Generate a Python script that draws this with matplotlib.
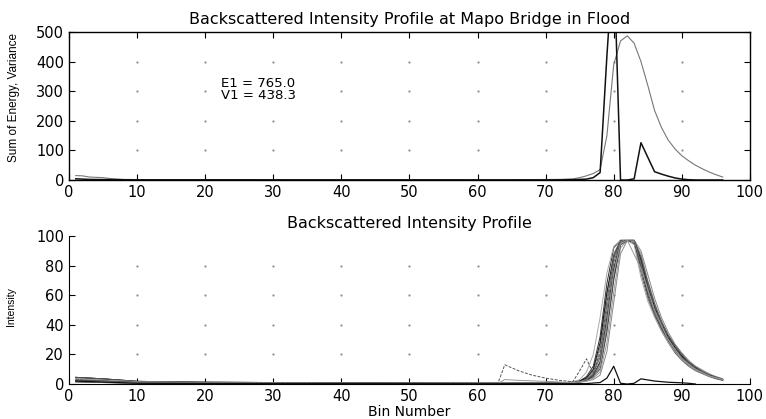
import numpy as np
import matplotlib
matplotlib.use("Agg")
from matplotlib import pyplot as plt

# top panel: sum of energy (black) and variance (gray), sparse breakpoints
energy_bins = [1, 2, 3, 5, 7, 10, 20, 40, 60, 70, 74, 76, 77, 78, 79, 80, 81, 82, 83, 84, 85, 86, 87, 88, 89, 90, 91, 92, 96]
energy = [4, 3, 2, 1.5, 1, 0.5, 0.5, 0.3, 0.2, 0.2, 1, 3, 8, 25, 420, 765, 0, 0, 4, 126, 77, 28, 20, 13, 7, 3, 1, 0, 0]

variance_bins = [1, 2, 3, 5, 6, 8, 10, 30, 50, 65, 72, 74, 75, 76, 77, 78, 79, 80, 81, 82, 83, 84, 85, 86, 87, 88, 89, 90, 91, 92, 93, 94, 95, 96]
variance = [15, 14, 10, 8, 5, 2, 1.5, 1, 1, 1, 2, 4, 8, 14, 22, 35, 150, 390, 470, 487, 462, 400, 320, 235, 178, 135, 105, 82, 65, 50, 38, 27, 18, 10]

E1 = 765.0
V1 = 438.3

# bottom panel: individual backscatter profiles
tail_bins = [1, 3, 5, 8, 10, 15, 20, 30, 40, 50, 60, 71]
tails = [
    [4.5, 4, 3.5, 2.5, 1.8, 1.5, 1.2, 1, 0.8, 0.6, 0.5, 0.5],
    [3.5, 3, 2.5, 2, 1.5, 1.2, 1, 0.8, 0.6, 0.5, 0.5, 0.5],
    [2.5, 2.2, 2, 1.5, 1.2, 1, 0.8, 0.6, 0.5, 0.4, 0.4, 0.5],
    [1.5, 1.2, 1, 0.8, 0.6, 0.5, 0.5, 0.4, 0.3, 0.3, 0.3, 0.5],
]

peak_bins = list(range(72, 97))
profiles = [
    [0.5, 0.5, 1, 1.5, 3, 6, 15, 45, 78, 97, 97, 97, 82, 65, 51, 40, 31, 24, 18, 14, 11, 8, 6, 4, 3],
    [0.5, 0.5, 1, 2, 4, 9, 25, 60, 88, 97, 97, 97, 85, 68, 53, 41, 32, 25, 19, 15, 11, 8, 6, 4.5, 3],
    [0.5, 1, 1, 2, 3, 5, 10, 35, 70, 95, 97, 97, 80, 62, 49, 38, 30, 23, 17, 13, 10, 7.5, 5.5, 4, 2.5],
    [0.5, 0.5, 1, 1.5, 2.5, 4, 8, 28, 62, 92, 97, 96, 88, 70, 55, 43, 33, 26, 20, 15, 12, 9, 6.5, 5, 3.5],
    [1, 1, 1.5, 2, 5, 12, 32, 68, 92, 97, 97, 97, 78, 60, 47, 37, 29, 22, 17, 13, 10, 7.5, 5.5, 4, 3],
    [0.5, 0.5, 1, 1.5, 3, 7, 18, 50, 82, 97, 97, 95, 75, 58, 46, 36, 28, 21, 16, 12, 9, 7, 5, 3.5, 2.5],
    [0.5, 0.5, 0.8, 1, 2, 3, 6, 22, 55, 88, 97, 97, 90, 74, 58, 45, 35, 27, 21, 16, 12, 9.5, 7, 5, 3.5],
    [0.5, 0.5, 1, 2, 4, 10, 28, 62, 86, 97, 97, 97, 84, 66, 52, 41, 32, 25, 19, 14, 11, 8, 6, 4.5, 3],
    [0.5, 0.5, 1, 1.5, 3, 6, 14, 42, 75, 96, 97, 97, 86, 69, 54, 42, 33, 26, 20, 15, 11.5, 8.5, 6, 4.5, 3],
    [0.5, 1, 1.5, 3, 8, 20, 45, 75, 93, 97, 97, 94, 72, 56, 45, 36, 28, 22, 17, 13, 10, 7.5, 5.5, 4, 3],
    [0.5, 0.5, 1, 1.5, 2.5, 5, 12, 38, 72, 94, 97, 97, 83, 64, 50, 39, 30, 23, 18, 14, 10.5, 8, 6, 4, 3],
    [0.5, 0.5, 1, 1.5, 3, 8, 20, 55, 85, 97, 97, 97, 81, 63, 49, 39, 30, 23, 17.5, 13.5, 10, 7.5, 5.5, 4, 3],
]
profile_colors = ["#222222", "#777777", "#444444", "#999999", "#333333", "#666666",
                  "#888888", "#111111", "#555555", "#aaaaaa", "#3a3a3a", "#7a7a7a"]

# odd profiles with early echoes near bins 64 and 76
echo_a_bins = [1, 5, 10, 62, 63, 64, 66, 68, 70, 72, 74, 75, 76, 77, 78, 79, 80, 81, 82, 83, 84, 86, 88, 90, 92, 94, 96]
echo_a = [3, 2, 1, 0.5, 0.5, 13, 9, 6, 4, 2.5, 1.5, 9, 17, 7, 22, 55, 85, 97, 97, 95, 80, 52, 32, 18, 11, 6, 3]
echo_b_bins = [1, 10, 40, 63, 64, 66, 70, 74, 76, 77, 78, 79, 80, 81, 82, 84, 86, 88, 90, 92, 94, 96]
echo_b = [2, 0.8, 0.4, 0.3, 3, 2.5, 1.8, 1, 2, 4, 12, 40, 75, 95, 97, 78, 50, 30, 17, 10, 5.5, 3]
low_bins = [1, 10, 20, 60, 74, 76, 78, 79, 80, 81, 82, 83, 84, 86, 88, 90, 91, 92]
low = [2, 0.5, 0.3, 0.2, 0.2, 0.3, 1, 4, 12, 0.5, 0, 0.5, 3.5, 2, 1.2, 0.8, 0.5, 0]

plt.rcParams["font.family"] = ["DejaVu Sans"]
plt.rcParams["xtick.direction"] = "in"
plt.rcParams["ytick.direction"] = "in"

fig = plt.figure(figsize=(7.66, 4.19), dpi=100)
ax1 = fig.add_axes([0.090, 0.5704, 0.889, 0.3532])
ax2 = fig.add_axes([0.090, 0.0835, 0.889, 0.3533])

# grid dots at tick crossings, like the printed matlab grid
for ax, yt in ((ax1, np.arange(100, 500, 100)), (ax2, np.arange(20, 100, 20))):
    gx, gy = np.meshgrid(np.arange(10, 100, 10), yt)
    ax.plot(gx.ravel(), gy.ravel(), ".", color="0.55", ms=1.2, zorder=0)

ax1.plot(variance_bins, variance, color="#777777", lw=0.8)
ax1.plot(energy_bins, energy, color="#111111", lw=1.1)
ax1.text(22.4, 325, "E1 = %.1f" % E1, fontsize=9.5, va="center")
ax1.text(22.4, 285, "V1 = %.1f" % V1, fontsize=9.5, va="center")
ax1.set_xlim(0, 100)
ax1.set_ylim(0, 500)
ax1.set_xticks(np.arange(0, 101, 10))
ax1.set_yticks(np.arange(0, 501, 100))
ax1.tick_params(top=True, right=True, length=4, labelsize=10.5, width=0.8)
ax1.set_ylabel("Sum of Energy, Variance", fontsize=8.5, family="Liberation Sans")
ax1.yaxis.set_label_coords(-0.072, 0.557)
ax1.set_title("Backscattered Intensity Profile at Mapo Bridge in Flood", fontsize=11.5, pad=6)
for s in ax1.spines.values():
    s.set_linewidth(1.0)

for i, prof in enumerate(profiles):
    xs = tail_bins + peak_bins
    ys = tails[i % len(tails)] + prof
    ax2.plot(xs, ys, color=profile_colors[i], lw=0.7)
ax2.plot(echo_a_bins, echo_a, color="#555555", lw=0.7, ls=(0, (3, 1.5)))
ax2.plot(echo_b_bins, echo_b, color="#999999", lw=0.7)
ax2.plot(low_bins, low, color="#111111", lw=0.9)
ax2.set_xlim(0, 100)
ax2.set_ylim(0, 100)
ax2.set_xticks(np.arange(0, 101, 10))
ax2.set_yticks(np.arange(0, 101, 20))
ax2.tick_params(length=4, labelsize=10.5, width=0.8)
ax2.spines["top"].set_visible(False)
ax2.spines["right"].set_visible(False)
ax2.set_ylabel("Intensity", fontsize=7.5, family="Liberation Sans")
ax2.yaxis.set_label_coords(-0.078, 0.52)
ax2.set_xlabel("Bin Number", fontsize=10)
ax2.xaxis.set_label_coords(0.5, -0.14)
ax2.set_title("Backscattered Intensity Profile", fontsize=11.5, pad=6)

fig.savefig("out.png", dpi=100)
